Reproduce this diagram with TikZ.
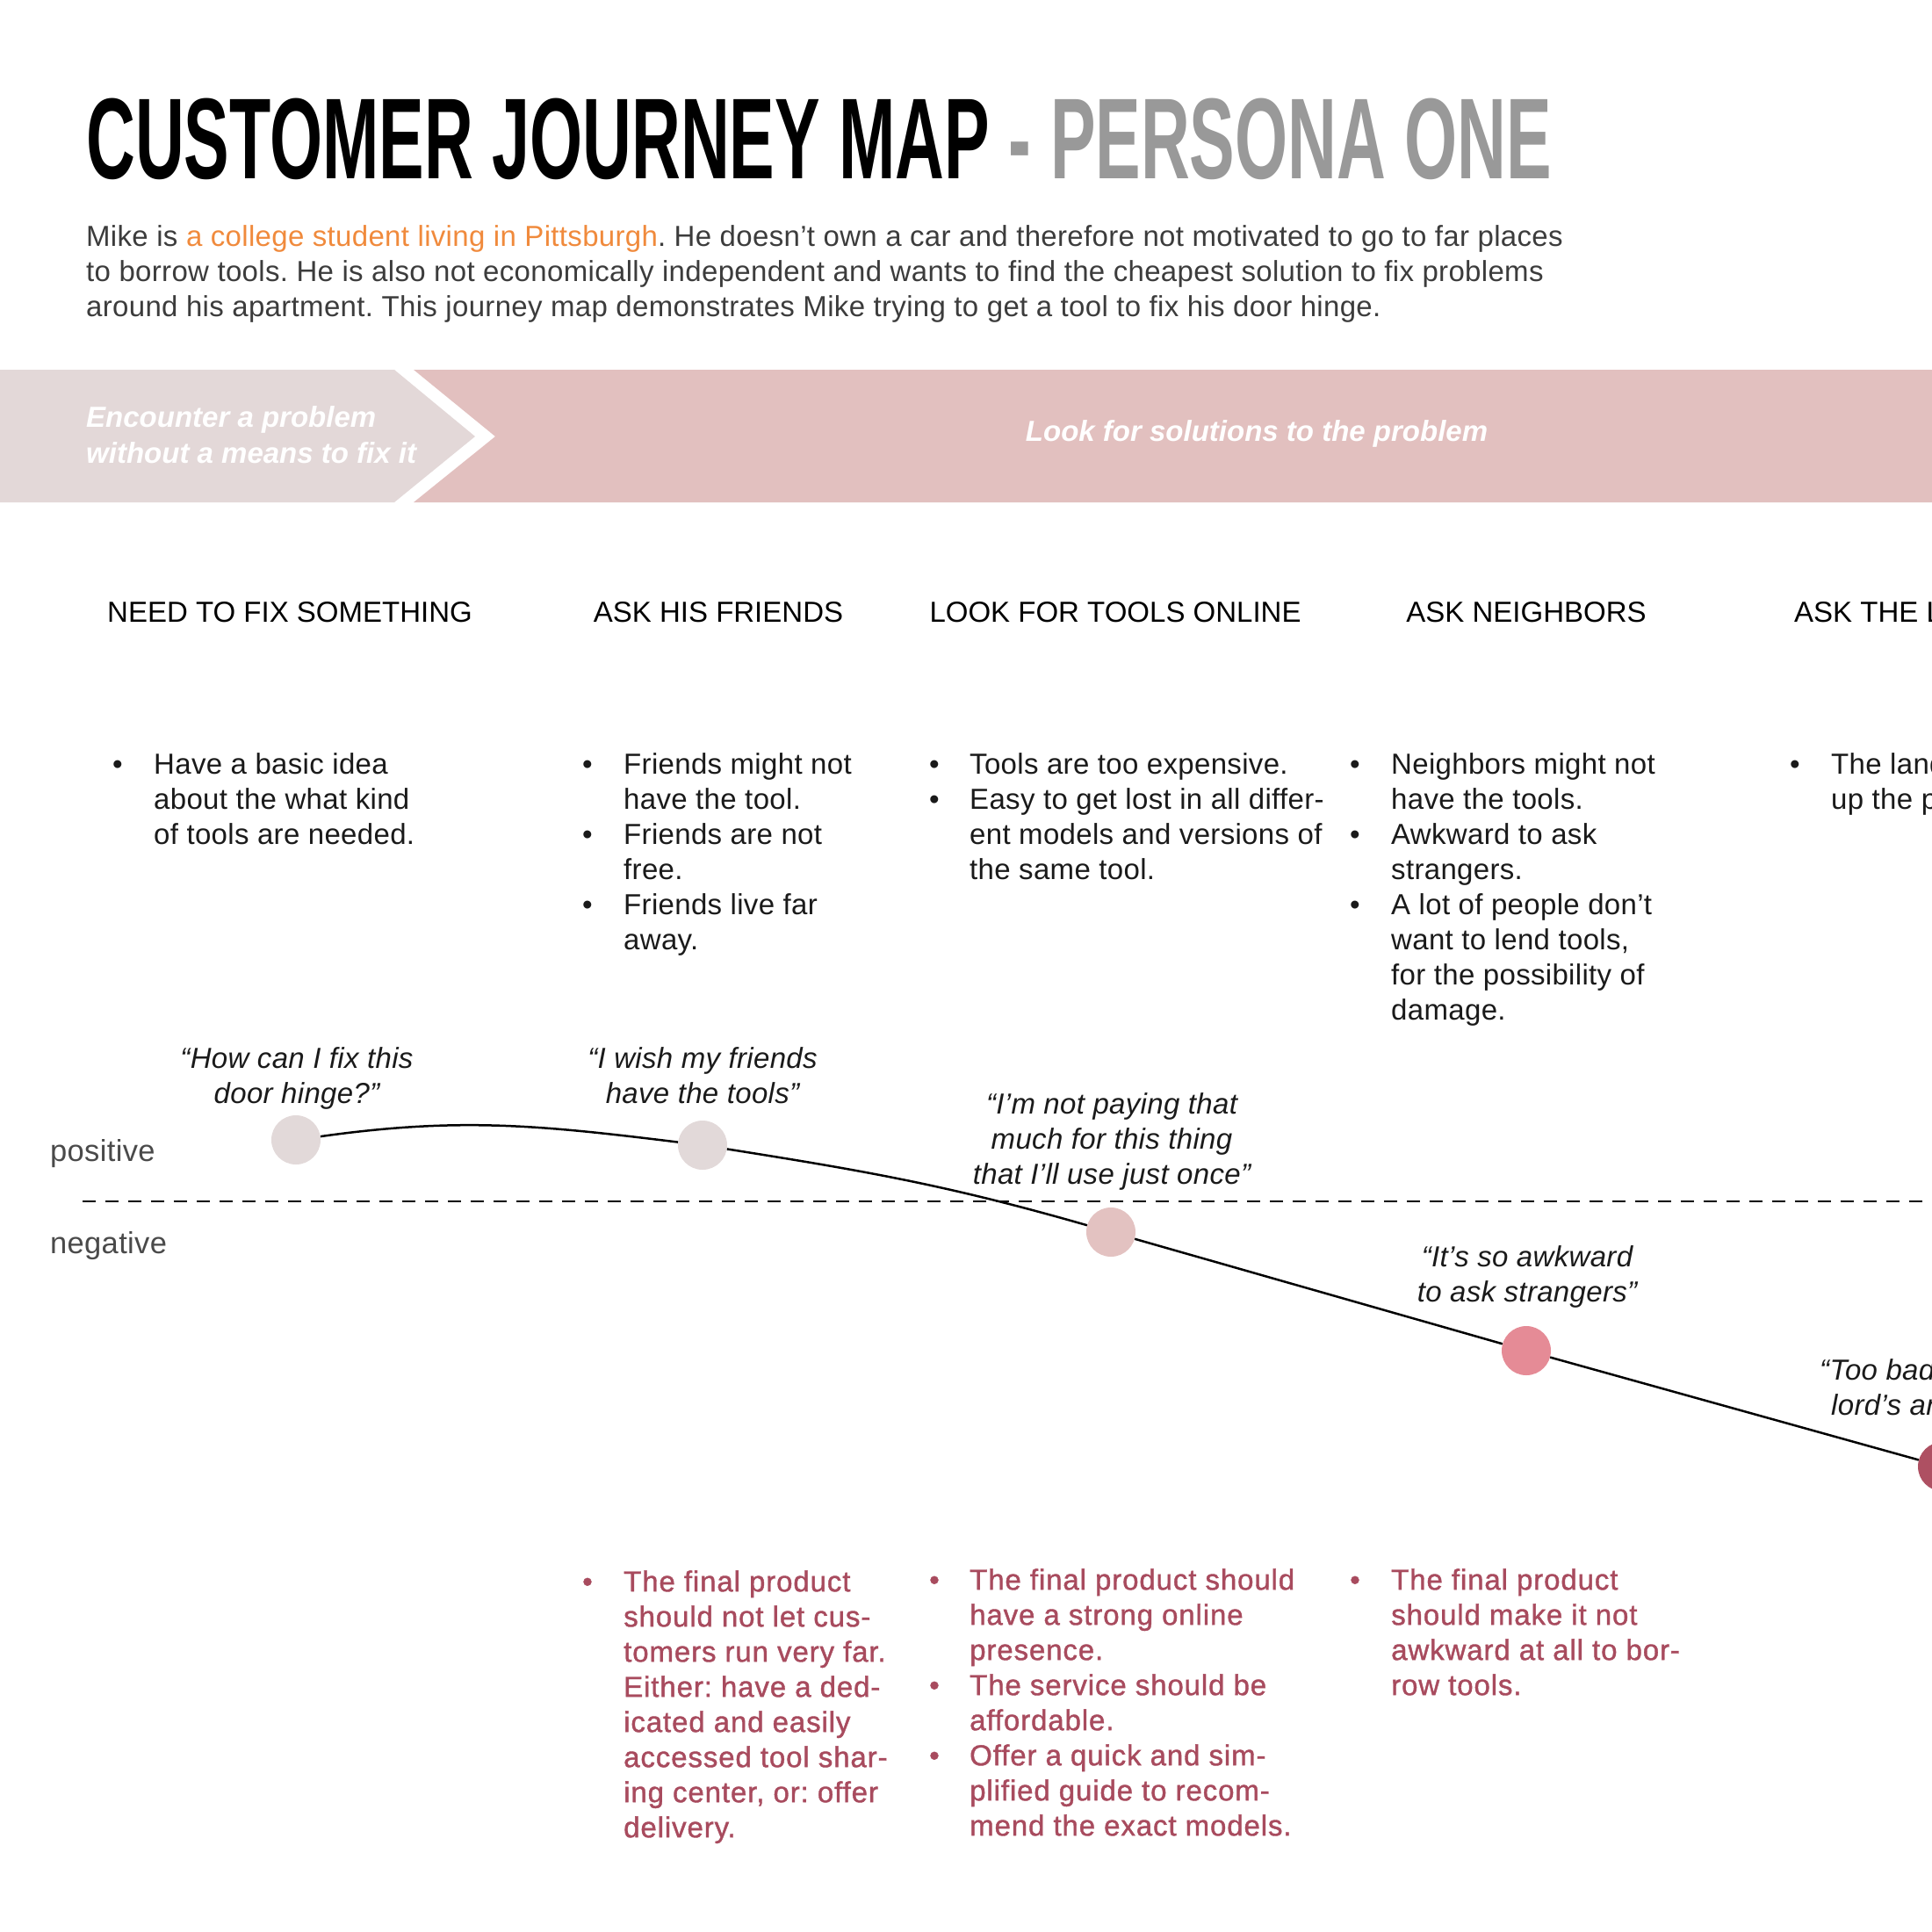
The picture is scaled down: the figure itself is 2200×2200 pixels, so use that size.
\documentclass[tikz,border=0pt]{standalone}
\usepackage{fontspec}
\setmainfont{Liberation Sans}
\newfontfamily\titlefont{Liberation Sans}[FakeStretch=0.59]
\newfontfamily\bodyfont{Liberation Sans}[LetterSpace=1.0]
\newfontfamily\medfont{Liberation Sans}[LetterSpace=2.7,FakeBold=1.2]
\frenchspacing
\definecolor{txt}{HTML}{3C3C3C}
\definecolor{orangeT}{HTML}{F08A3C}
\definecolor{titlegray}{HTML}{999999}
\definecolor{bandlight}{HTML}{E3D8D8}
\definecolor{bandpink}{HTML}{E2C0BF}
\definecolor{redT}{HTML}{A84B5E}
\definecolor{dotA}{HTML}{E2D9D9}
\definecolor{dotB}{HTML}{E3C2C1}
\definecolor{dotC}{HTML}{E58B96}
\definecolor{dotD}{HTML}{AE5062}
\definecolor{labgray}{HTML}{4A4A4A}
\definecolor{blk}{HTML}{1A1A1A}
\begin{document}
\frenchspacing
\begin{tikzpicture}[x=1pt,y=-1pt,
  body/.style={inner sep=0pt, font=\bodyfont\fontsize{33}{40}\selectfont},
  header/.style={inner sep=0pt, font=\fontsize{33}{40}\selectfont, text=black, anchor=base},
  quote/.style={inner sep=0pt, font=\bodyfont\fontsize{33}{40}\selectfont\itshape, text=blk, align=center, anchor=north},
  blist/.style={body, text=blk, anchor=north west},
  rlist/.style={inner sep=0pt, font=\medfont\fontsize{33}{40}\selectfont, text=redT, anchor=north west},
  banner/.style={inner sep=0pt, font=\fontsize{33}{41}\selectfont\bfseries\itshape, text=white},
  dot/.style={circle, minimum size=56pt, inner sep=0pt, draw=none},
  curve/.style={line width=2.5pt, black},
  axis/.style={line width=2.5pt, black, dash pattern=on 15pt off 11pt}]
\useasboundingbox (0,0) rectangle (2200,2200);
\clip (0,0) rectangle (2200,2200);

% title
\node[anchor=base west, inner sep=0pt, font=\titlefont\bfseries\fontsize{131}{131}\selectfont] (title) at (98,203)
  {CUSTOMER JOURNEY MAP \textcolor{titlegray}{- PERSONA ONE}};

% intro paragraph
\node[body, text=txt, anchor=north west, align=left] (intro) at (98,252)
  {\strut Mike is \textcolor{orangeT}{a college student living in Pittsburgh}. He doesn’t own a car and therefore not motivated to go to far places\\
   to borrow tools. He is also not economically independent and wants to find the cheapest solution to fix problems\\
   around his apartment. This journey map demonstrates Mike trying to get a tool to fix his door hinge.};

% banner
\fill[bandlight] (0,421) -- (449,421) -- (541,497) -- (449,572) -- (0,572) -- cycle;
\fill[bandpink] (471,421) -- (2200,421) -- (2200,572) -- (471,572) -- (564,497) -- cycle;
\node[banner, anchor=north west, align=left] (stage1) at (98,458)
  {\strut Encounter a problem\\without a means to fix it};
\node[banner, anchor=base] (stage2) at (1431,502) {Look for solutions to the problem};

% column headers
\node[header] (h1) at (330,708) {NEED TO FIX SOMETHING};
\node[header] (h2) at (818,708) {ASK HIS FRIENDS};
\node[header] (h3) at (1270,708) {LOOK FOR TOOLS ONLINE};
\node[header] (h4) at (1738,708) {ASK NEIGHBORS};
\node[header, anchor=base west] (h5) at (2043,708) {ASK THE LANDLORD};

% pain points
\node[blist] (p1) at (128,853) {\begin{tabular}{@{}p{47pt}@{}l@{}}
 • & Have a basic idea\\ & about the what kind\\ & of tools are needed.\end{tabular}};
\node[blist] (p2) at (663,853) {\begin{tabular}{@{}p{47pt}@{}l@{}}
 • & Friends might not\\ & have the tool.\\
 • & Friends are not\\ & free.\\
 • & Friends live far\\ & away.\end{tabular}};
\node[blist] (p3) at (1058,853) {\begin{tabular}{@{}p{46pt}@{}l@{}}
 • & Tools are too expensive.\\
 • & Easy to get lost in all differ-\\ & ent models and versions of\\ & the same tool.\end{tabular}};
\node[blist] (p4) at (1537,853) {\begin{tabular}{@{}p{47pt}@{}l@{}}
 • & Neighbors might not\\ & have the tools.\\
 • & Awkward to ask\\ & strangers.\\
 • & A lot of people don’t\\ & want to lend tools,\\ & for the possibility of\\ & damage.\end{tabular}};
\node[blist] (p5) at (2038,853) {\begin{tabular}{@{}p{47pt}@{}l@{}}
 • & The landlord\\ & up the phone.\end{tabular}};

% quotes
\node[quote] (q1) at (338,1188) {\strut“How can I fix this\\door hinge?”};
\node[quote] (q2) at (800,1188) {\strut“I wish my friends\\have the tools”};
\node[quote] (q3) at (1266,1240) {\strut“I’m not paying that\\much for this thing\\that I’ll use just once”};
\node[quote] (q4) at (1739,1414) {\strut“It’s so awkward\\to ask strangers”};
\node[quote, anchor=north west, align=left] (q5) at (2072,1543) {\strut“Too bad the land-\\\hspace*{13pt}lord’s answer”};

% axis
\node[body, font=\bodyfont\fontsize{34.5}{40}\selectfont, text=labgray, anchor=base west] (pos) at (57,1322) {positive};
\node[body, font=\bodyfont\fontsize{34.5}{40}\selectfont, text=labgray, anchor=base west] (neg) at (57,1427) {negative};
\coordinate (axL) at (94,1368);
\coordinate (axR) at (2200,1368);
\draw[axis] (axL) -- (axR);

% emotion curve
\node[dot, fill=dotA] (d1) at (337,1298) {};
\node[dot, fill=dotA] (d2) at (800,1304) {};
\node[dot, fill=dotB] (d3) at (1265,1403) {};
\node[dot, fill=dotC] (d4) at (1738,1538) {};
\node[dot, fill=dotD] (d5) at (2212,1670) {};
\draw[curve] (d1) to[out=8,in=173] (d2);
\draw[curve] (d2) to[out=-9,in=164] (d3);
\draw[curve] (d3) -- (d4);
\draw[curve] (d4) -- (d5);

% opportunities
\node[rlist] (o2) at (663,1784) {\begin{tabular}{@{}p{47pt}@{}l@{}}
 • & The final product\\ & should not let cus-\\ & tomers run very far.\\ & Either: have a ded-\\
   & icated and easily\\ & accessed tool shar-\\ & ing center, or: offer\\ & delivery.\end{tabular}};
\node[rlist] (o3) at (1058,1782) {\begin{tabular}{@{}p{46pt}@{}l@{}}
 • & The final product should\\ & have a strong online\\ & presence.\\
 • & The service should be\\ & affordable.\\
 • & Offer a quick and sim-\\ & plified guide to recom-\\ & mend the exact models.\end{tabular}};
\node[rlist] (o4) at (1537,1782) {\begin{tabular}{@{}p{47pt}@{}l@{}}
 • & The final product\\ & should make it not\\ & awkward at all to bor-\\ & row tools.\end{tabular}};
\end{tikzpicture}
\end{document}
